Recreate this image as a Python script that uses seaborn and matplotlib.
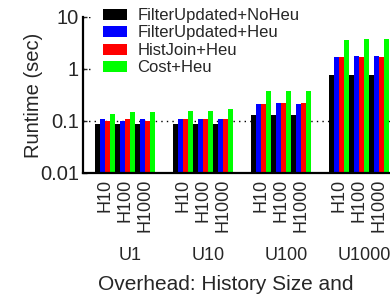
import numpy as np
import pandas as pd
import matplotlib
matplotlib.use("Agg")
import matplotlib.pyplot as plt
import seaborn as sns

# данные
methods = ["FilterUpdated+NoHeu", "FilterUpdated+Heu", "HistJoin+Heu", "Cost+Heu"]
updates = ["U1", "U10", "U100", "U1000"]
histories = ["H10", "H100", "H1000"]

noheu = [0.089, 0.089, 0.089, 0.089, 0.089, 0.089, 0.132, 0.132, 0.132, 0.776, 0.776, 0.776]
filter_heu = [0.111, 0.100, 0.111, 0.111, 0.111, 0.111, 0.215, 0.225, 0.215, 1.73, 1.80, 1.80]
histjoin_heu = [0.100, 0.111, 0.100, 0.111, 0.111, 0.111, 0.215, 0.225, 0.225, 1.73, 1.73, 1.73]
cost_heu = [0.138, 0.151, 0.151, 0.158, 0.158, 0.172, 0.383, 0.383, 0.383, 3.66, 3.83, 3.83]

colors = ["#000000", "#0000ff", "#ff0000", "#00ff00"]

sns.set_style("ticks")
plt.rcParams["font.family"] = ["Liberation Sans", "DejaVu Sans"]

# длинная таблица: позиция подгруппы = номер группы * 3.9 + номер истории
rows = []
for m, vals in zip(methods, [noheu, filter_heu, histjoin_heu, cost_heu]):
    for i, v in enumerate(vals):
        u, h = divmod(i, len(histories))
        rows.append({"pos": u * 3.9 + h, "runtime": v, "method": m})
df = pd.DataFrame(rows)

fig = plt.figure(figsize=(3.9, 2.94), dpi=100)
ax = fig.add_axes([83 / 390, (294 - 173) / 294, 322 / 390, 156 / 294])
ax.set_yscale("log")

sns.barplot(data=df, x="pos", y="runtime", hue="method", hue_order=methods,
            palette=colors, native_scale=True, width=1.0, gap=0, saturation=1,
            errorbar=None, linewidth=0, ax=ax)

ax.set_ylim(0.01, 10)
ax.set_xlim(-1.1, 15)
ax.set_yticks([0.01, 0.1, 1, 10])
ax.set_yticklabels(["0.01", "0.1", "1", "10"])
ax.yaxis.set_minor_locator(matplotlib.ticker.NullLocator())
ax.tick_params(axis="y", direction="in", length=3, width=1, labelsize=14.5, pad=3)

xt = [u * 3.9 + h for u in range(len(updates)) for h in range(len(histories))]
ax.set_xticks(xt)
ax.set_xticklabels(histories * len(updates), rotation=90)
ax.tick_params(axis="x", length=0, labelsize=13, pad=4)

# пунктир на 0.1 через весь график, на 1 и 10 — только у оси (остальное под легендой)
ax.axhline(0.1, linestyle=(0, (1, 3)), color="black", linewidth=1, zorder=0)
ytr = ax.get_yaxis_transform()
for yv in [1, 10]:
    ax.plot([0, 0.025], [yv, yv], linestyle=(0, (1, 3)), color="black",
            linewidth=1, transform=ytr, zorder=0)

for s in ["top", "right"]:
    ax.spines[s].set_visible(False)
for s in ["left", "bottom"]:
    ax.spines[s].set_linewidth(1.6)
    ax.spines[s].set_color("black")

ax.set_xlabel("")
ax.set_ylabel("Runtime (sec)", fontsize=14.5)
ax.yaxis.set_label_coords(-0.125, 0.5)

for u, name in enumerate(updates):
    ax.text(u * 3.9 + 1 + 0.25, -0.53, name, transform=ax.get_xaxis_transform(),
            ha="center", va="center", fontsize=13)

fig.text(226 / 390, 1 - 285 / 294, "Overhead: History Size and",
         ha="center", va="center", fontsize=15)

handles, labels = ax.get_legend_handles_labels()
ax.legend(handles, labels, loc="upper left", bbox_to_anchor=(103 / 390, 1 - 8 / 294),
          bbox_transform=fig.transFigure, fontsize=12, frameon=False,
          borderpad=0, borderaxespad=0,
          handlelength=1.45, handleheight=0.66, handletextpad=0.6, labelspacing=0.15)

fig.savefig("out.png", dpi=100)
